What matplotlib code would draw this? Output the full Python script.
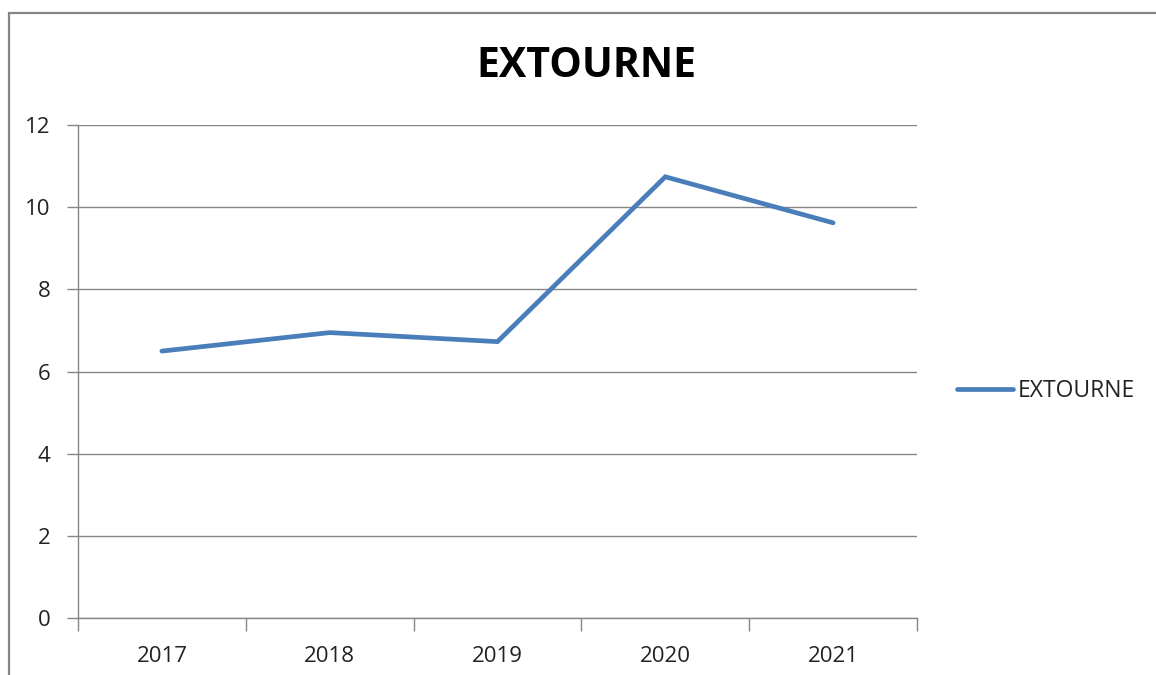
import matplotlib
matplotlib.use("Agg")
import matplotlib.pyplot as plt
import matplotlib.patches as mpatches
import numpy as np

# values
years = ["2017", "2018", "2019", "2020", "2021"]
extourne = [6.50, 6.95, 6.73, 10.74, 9.62]
y_ticks = [0, 2, 4, 6, 8, 10, 12]

plt.rcParams["font.family"] = ["Open Sans", "DejaVu Sans"]

W, H = 1156, 675
fig = plt.figure(figsize=(W / 100, H / 100), dpi=100)
fig.patch.set_facecolor("white")

# outer chart frame (runs off the right and bottom edge like the screenshot)
frame = mpatches.Rectangle((9 / W, -0.1), 1.2, 1 - 13 / H + 0.1, transform=fig.transFigure,
                           fill=False, edgecolor="#868686", linewidth=1.6, zorder=0)
fig.patches.append(frame)

ax = fig.add_axes([78 / W, 1 - 618.3 / H, (917 - 78) / W, (618.3 - 125) / H])

x = np.arange(len(years))
ax.plot(x, extourne, color="#4A7EBB", linewidth=3.4, solid_capstyle="round",
        solid_joinstyle="miter", label="EXTOURNE", zorder=3)

ax.set_xlim(-0.5, len(years) - 0.5)
ax.set_ylim(0, 12)

ax.set_yticks(y_ticks)
ax.set_yticklabels([str(v) for v in y_ticks])
ax.yaxis.grid(True, color="#868686", linewidth=1.0)
ax.set_axisbelow(True)

ax.set_xticks(x)
ax.set_xticklabels(years)
ax.set_xticks(np.arange(-0.5, len(years), 1.0), minor=True)
ax.tick_params(axis="x", which="major", length=0, pad=20, labelsize=16, colors="#222222")
ax.tick_params(axis="x", which="minor", length=9, width=1, color="#868686", direction="out")
ax.tick_params(axis="y", length=8, width=1, color="#868686", pad=12, labelsize=16,
               labelcolor="#222222")

for side in ["top", "right"]:
    ax.spines[side].set_visible(False)
for side in ["left", "bottom"]:
    ax.spines[side].set_color("#868686")
    ax.spines[side].set_linewidth(1.0)

fig.text(586 / W, 1 - 77 / H, "EXTOURNE", ha="center", va="baseline",
         fontsize=29.5, fontweight="bold", color="black")

ax.legend(loc="center left", bbox_to_anchor=(957 / W, 1 - 391 / H), bbox_transform=fig.transFigure,
          frameon=False, fontsize=16.5, handlelength=2.45, handletextpad=0.22,
          borderpad=0, borderaxespad=0, labelcolor="#222222")

fig.savefig("out.png", dpi=100, facecolor="white")
